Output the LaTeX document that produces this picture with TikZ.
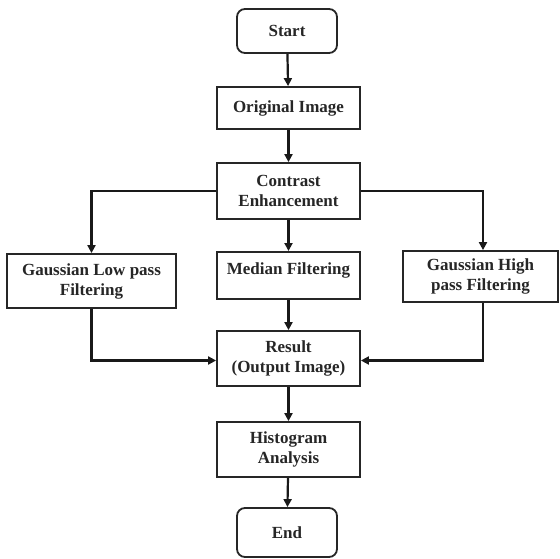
\documentclass[tikz,border=0pt]{standalone}
\usepackage{fontspec}
\setmainfont{Liberation Serif}
\usetikzlibrary{arrows.meta,positioning}
\begin{document}
\begin{tikzpicture}[x=1pt,y=1pt,
  box/.style={draw=black!85, line width=1.8pt, align=center, inner sep=2pt,
    font=\fontsize{17}{20}\selectfont\bfseries, text=black!85},
  term/.style={box, rounded corners=8pt},
  arr/.style={draw=black!90, line width=2.2pt, -{Triangle[length=8pt,width=8pt]}},
  ln/.style={draw=black!90, line width=2.2pt}]
\useasboundingbox (0,0) rectangle (560,-559);
\node[term, minimum width=100, minimum height=44] (start) at (287,-31) {Start};
\node[box, minimum width=143, minimum height=42] (orig) at (288.5,-108) {Original Image};
\node[box, minimum width=143, minimum height=56] (contrast) at (288.5,-191) {Contrast\\Enhancement};
\node[box, minimum width=143, minimum height=47, text height=19pt, text depth=20pt, inner ysep=4pt, anchor=north] (median) at (288.5,-251) {Median Filtering};
\node[box, minimum width=169, minimum height=54] (low) at (91.5,-281) {Gaussian Low pass\\Filtering};
\node[box, minimum width=155, minimum height=51] (high) at (480.5,-276.5) {Gaussian High\\pass Filtering};
\node[box, minimum width=143, minimum height=55] (result) at (288.5,-358.5) {Result\\(Output Image)};
\node[box, minimum width=143, minimum height=55] (hist) at (288.5,-449.5) {Histogram\\Analysis};
\node[term, minimum width=100, minimum height=49] (end) at (287,-532.5) {End};
\draw[arr] (start) -- (orig);
\draw[arr] (orig) -- (contrast);
\draw[arr] (contrast) -- (median);
\draw[arr] (median) -- (result);
\draw[arr] (result) -- (hist);
\draw[arr] (hist) -- (end);
\draw[arr] (contrast.west) -| (low.north);
\draw[arr] (contrast.east) -| ([xshift=2.5pt]high.north);
\draw[arr] (low.south) |- ([yshift=-2pt]result.west);
\draw[arr] ([xshift=2.5pt]high.south) |- ([yshift=-2pt]result.east);
\end{tikzpicture}
\end{document}
